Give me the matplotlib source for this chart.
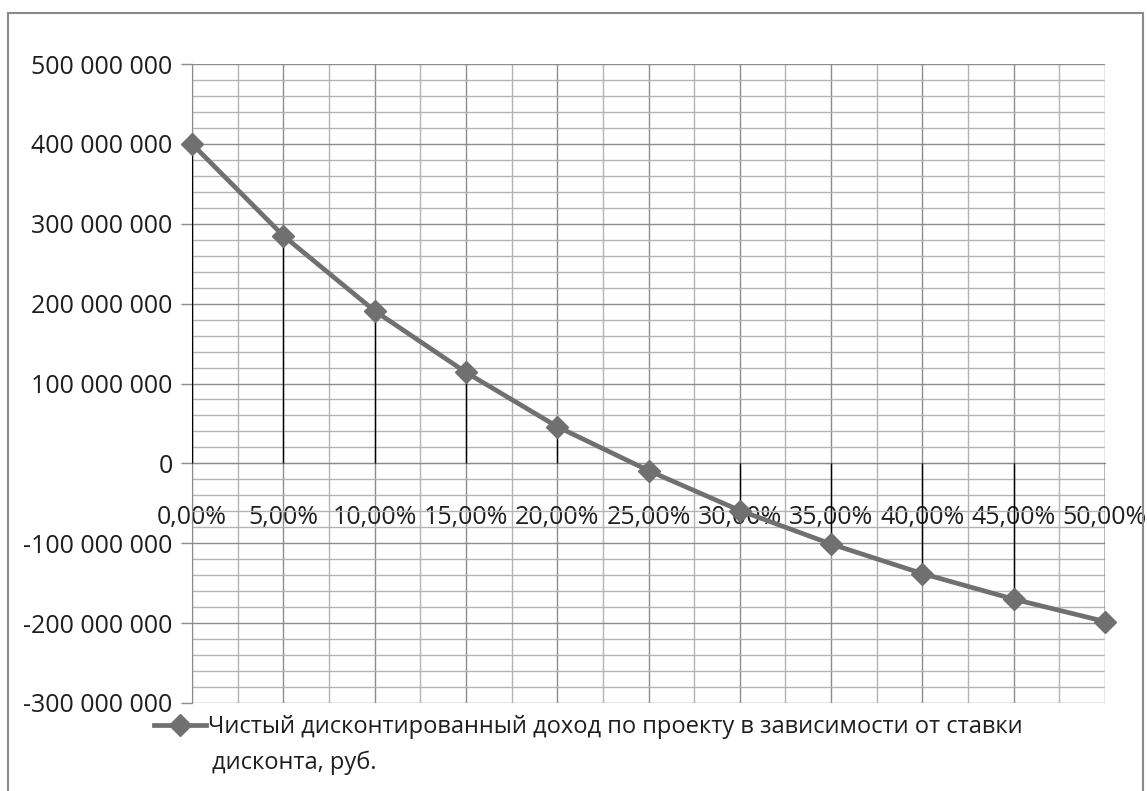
import matplotlib
matplotlib.use("Agg")
import matplotlib.pyplot as plt
from matplotlib.patches import Rectangle
from matplotlib.ticker import MultipleLocator

plt.rcParams['font.family'] = ['Open Sans', 'DejaVu Sans']

categories = ["0,00%", "5,00%", "10,00%", "15,00%", "20,00%", "25,00%",
              "30,00%", "35,00%", "40,00%", "45,00%", "50,00%"]
npv = [400e6, 285e6, 191e6, 114e6, 46e6, -9e6, -59e6, -101e6, -138e6, -170e6, -198e6]
yticks = [-300e6, -200e6, -100e6, 0, 100e6, 200e6, 300e6, 400e6, 500e6]
ytick_labels = ["-300 000 000", "-200 000 000", "-100 000 000", "0", "100 000 000",
                "200 000 000", "300 000 000", "400 000 000", "500 000 000"]
legend_line1 = "Чистый дисконтированный доход по проекту в зависимости от ставки"
legend_line2 = "дисконта, руб."

W, H = 1147, 791
TXT = "#1e1e1e"
fig = plt.figure(figsize=(W / 100, H / 100), dpi=100)
fig.patch.set_facecolor("white")
fig.patches.append(Rectangle((8 / W, -0.05), (1143 - 8) / W, 1.05 - 13 / H,
                             transform=fig.transFigure, fill=False,
                             edgecolor="#8a8a8a", linewidth=1.5))

ax = fig.add_axes([192 / W, 1 - 703 / H, (1105 - 192) / W, (703 - 64) / H])
x = list(range(len(categories)))
ax.set_xlim(0, len(categories) - 1)
ax.set_ylim(-300e6, 500e6)

# grid
ax.set_yticks(yticks)
ax.set_yticklabels(ytick_labels)
ax.yaxis.set_minor_locator(MultipleLocator(20e6))
ax.set_xticks(x)
ax.set_xticklabels(categories)
ax.xaxis.set_minor_locator(MultipleLocator(0.5))
ax.grid(which="major", color="#8c8c8c", linewidth=1.0)
ax.grid(which="minor", color="#b4b4b4", linewidth=1.0)
ax.set_axisbelow(True)

for s in ["top", "right"]:
    ax.spines[s].set_visible(False)
ax.spines["left"].set_color("#8c8c8c")
ax.spines["bottom"].set_position(("data", 0))
ax.spines["bottom"].set_color("#8c8c8c")

ax.tick_params(axis="y", which="major", direction="out", length=8, width=1,
               color="#8c8c8c", labelsize=18, labelcolor=TXT, pad=6)
ax.tick_params(axis="y", which="minor", length=0)
ax.tick_params(axis="x", which="major", length=0, labelsize=18,
               labelcolor=TXT, pad=30)
ax.tick_params(axis="x", which="minor", length=0)

# drop lines
ax.vlines(x, 0, npv, colors="black", linewidth=1.0, zorder=3)
line, = ax.plot(x, npv, color="#707070", linewidth=3.4, marker="D",
                markersize=11, markerfacecolor="#707070",
                markeredgecolor="#707070", zorder=4, clip_on=False)

leg = fig.legend(handles=[line], labels=[legend_line1], loc="upper left",
                 bbox_to_anchor=(154 / W, 1 - 715 / H), frameon=False,
                 fontsize=17, handlelength=2.2, handletextpad=0.1,
                 borderaxespad=0, borderpad=0)
for t in leg.get_texts():
    t.set_color(TXT)
fig.text(212 / W, 1 - 763 / H, legend_line2, fontsize=17, color=TXT,
         ha="left", va="center")

fig.savefig("out.png", dpi=100)
